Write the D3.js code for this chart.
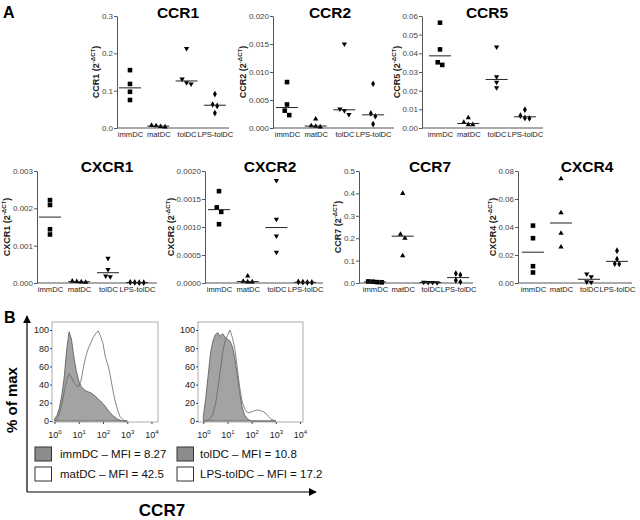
<!DOCTYPE html>
<html><head><meta charset="utf-8">
<script src="https://cdn.jsdelivr.net/npm/d3@7"></script>
<style>body{margin:0;background:#fff} svg{display:block} text{font-family:"Liberation Sans",Arial,sans-serif}</style>
</head><body><svg id="c" width="640" height="520"></svg>
<script>
// ---------------- DATA ----------------
const categories = ["immDC", "matDC", "tolDC", "LPS-tolDC"];
const genes = ["CCR1", "CCR2", "CCR5", "CXCR1", "CXCR2", "CCR7", "CXCR4"];

const ccr1Values  = [[0.155, 0.118, 0.097, 0.075], [0.004, 0.006, 0.007, 0.003], [0.213, 0.131, 0.118, 0.121], [0.091, 0.063, 0.059, 0.040]];
const ccr2Values  = [[0.0082, 0.0042, 0.0031, 0.0023], [0.0016, 0.0004, 0.0003, 0.0002], [0.0150, 0.0034, 0.0031, 0.0024], [0.0079, 0.0026, 0.0021, 0.0007]];
const ccr5Values  = [[0.0564, 0.0421, 0.0352, 0.0338], [0.0055, 0.0030, 0.0018, 0.0018], [0.0434, 0.0275, 0.0245, 0.0216], [0.0098, 0.0066, 0.0052, 0.0054]];
const cxcr1Values = [[0.00222, 0.00209, 0.00144, 0.00130], [0.00004, 0.00003, 0.00005, 0.00002], [0.00066, 0.00036, 0.00019, 0.00017], [0.00001, 0.000015, 0.00001, 0.00002]];
const cxcr2Values = [[0.00164, 0.00135, 0.00127, 0.00105], [0.000125, 0.00003, 0.00002, 0.00002], [0.00183, 0.00114, 0.00084, 0.00055], [0.00001, 0.000015, 0.00001, 0.00002]];
const ccr7Values  = [[0.006, 0.004, 0.007, 0.003], [0.400, 0.218, 0.200, 0.122], [0.002, 0.003, 0.002, 0.001], [0.042, 0.036, 0.012, 0.0045]];
const cxcr4Values = [[0.041, 0.032, 0.012, 0.0075], [0.0745, 0.0502, 0.0355, 0.0257], [0.0065, 0.0045, 0.0008, 0.0006], [0.0231, 0.0171, 0.0138, 0.0136]];
const geneValues = [ccr1Values, ccr2Values, ccr5Values, cxcr1Values, cxcr2Values, ccr7Values, cxcr4Values];

const yMaxima = [0.3, 0.02, 0.06, 0.003, 0.002, 0.5, 0.08];
const yTickSteps = [0.1, 0.005, 0.01, 0.001, 0.0005, 0.1, 0.02];
const yTickDecimals = [1, 3, 2, 3, 4, 1, 2];

// Flow cytometry histograms (CCR7), x = log10 fluorescence, y = % of max
const histExponents = [0.0, 0.1, 0.2, 0.3, 0.4, 0.5, 0.6, 0.7, 0.8, 0.9, 1.0, 1.1, 1.2, 1.3, 1.4, 1.5, 1.6, 1.7, 1.8, 1.9, 2.0, 2.1, 2.2, 2.3, 2.4, 2.5, 2.6, 2.7, 2.8, 2.9, 3.0];
const immDCHist    = [2, 6, 14, 28, 48, 78, 98, 90, 70, 55, 44, 38, 35, 33, 32, 31, 29, 27, 24, 22, 19, 16, 12, 9, 6, 4, 2, 1, 0, 0, 0];
const matDCHist    = [0, 2, 8, 18, 32, 45, 52, 48, 42, 39, 38, 45, 60, 72, 80, 86, 92, 96, 99, 93, 85, 70, 62, 50, 35, 22, 12, 5, 2, 0, 0];
const tolDCHist    = [5, 25, 50, 75, 88, 95, 97, 93, 96, 92, 90, 88, 82, 70, 52, 32, 16, 7, 3, 1, 0, 0, 0, 0, 0, 0, 0, 0, 0, 0, 0];
const lpsTolDCHist = [0, 0, 1, 3, 8, 18, 35, 55, 75, 88, 94, 100, 92, 80, 60, 38, 22, 14, 10, 9, 10, 11, 12, 12, 11, 10, 8, 5, 2, 1, 0];
const histGroups = [["immDC", "matDC"], ["tolDC", "LPS-tolDC"]];
const mfiValues = [[8.27, 42.5], [10.8, 17.2]];
const histYTicks = [0, 20, 40, 60, 80, 100];
const histXTicks = [1, 10, 100, 1000, 10000];

// ---------------- LAYOUT ----------------
const svg = d3.select("#c");
const FONT = '"Liberation Sans", Arial, sans-serif';
const layout = [
  {ax: 117, first: 130, step: 28.3, end: 229, top: 16, bot: 128, tx: 178, ty: 18},
  {ax: 273, first: 287, step: 28.7, end: 394, top: 16, bot: 128, tx: 330, ty: 18},
  {ax: 422, first: 440, step: 28.3, end: 543, top: 16, bot: 128, tx: 487, ty: 18},
  {ax: 37,  first: 50,  step: 29,   end: 157, top: 171, bot: 283, tx: 107, ty: 172},
  {ax: 205, first: 219, step: 28.7, end: 323, top: 171, bot: 283, tx: 270, ty: 172},
  {ax: 359, first: 375, step: 27.7, end: 473, top: 171, bot: 283, tx: 430, ty: 172},
  {ax: 518, first: 533, step: 28,   end: 632, top: 171, bot: 283, tx: 587, ty: 172}
];
const symbols = [
  {type: d3.symbolSquare, size: 21, rot: 0},
  {type: d3.symbolTriangle, size: 12, rot: 0},
  {type: d3.symbolTriangle, size: 12, rot: 180},
  {type: d3.symbolDiamond, size: 13, rot: 0}
];

// Panel letters
svg.append("text").attr("x", 3).attr("y", 18).attr("font-size", 16).attr("font-weight", "bold").text("A");
svg.append("text").attr("x", 4).attr("y", 323).attr("font-size", 16).attr("font-weight", "bold").text("B");

genes.forEach((gene, gi) => {
  const L = layout[gi];
  const g = svg.append("g");
  const y = d3.scaleLinear().domain([0, yMaxima[gi]]).range([L.bot, L.top]);
  const x = d3.scalePoint().domain(categories).range([L.first, L.first + 3 * L.step]);
  const ticks = d3.range(0, yMaxima[gi] + yTickSteps[gi] / 2, yTickSteps[gi]);
  const fmt = d3.format("." + yTickDecimals[gi] + "f");

  const yAxis = g.append("g").attr("transform", `translate(${L.ax},0)`)
    .call(d3.axisLeft(y).tickValues(ticks).tickFormat(fmt).tickSize(3).tickSizeOuter(0).tickPadding(1));
  yAxis.select(".domain").attr("stroke", "#555");
  yAxis.selectAll(".tick line").attr("stroke", "#555");
  yAxis.selectAll("text").attr("font-size", 8).attr("fill", "#444").attr("font-family", FONT);

  // x axis line
  g.append("line").attr("x1", L.ax).attr("x2", L.end).attr("y1", L.bot).attr("y2", L.bot).attr("stroke", "#555");
  const xAxis = g.append("g").attr("transform", `translate(0,${L.bot})`)
    .call(d3.axisBottom(x).tickSize(0).tickPadding(4));
  xAxis.select(".domain").remove();
  xAxis.selectAll("text").attr("font-size", 7.6).attr("fill", "#222").attr("font-family", FONT);

  // title
  g.append("text").attr("x", L.tx).attr("y", L.ty).attr("text-anchor", "middle")
    .attr("font-size", 15.5).attr("font-weight", "bold").text(gene);

  // y label
  let maxW = 0;
  yAxis.selectAll("text").each(function() { maxW = Math.max(maxW, this.getComputedTextLength()); });
  const lx = L.ax - 4 - maxW - 2.5;
  const ly = (L.top + L.bot) / 2;
  const lab = g.append("text").attr("transform", `translate(${lx},${ly}) rotate(-90)`)
    .attr("text-anchor", "middle").attr("font-size", 9).attr("font-weight", "bold").attr("fill", "#222");
  lab.append("tspan").text(gene + " (2");
  lab.append("tspan").attr("dy", -4).attr("font-size", 6).text("-ΔCT");
  lab.append("tspan").attr("dy", 4).text(")");

  // points
  geneValues[gi].forEach((vals, ci) => {
    const cx = x(categories[ci]);
    const pts = vals.map(v => ({v, py: y(v)})).sort((a, b) => a.py - b.py);
    // spread points with overlapping y (scatter dot plot)
    const clusters = [];
    pts.forEach(p => {
      const last = clusters[clusters.length - 1];
      if (last && p.py - last[last.length - 1].py < 4.5) last.push(p); else clusters.push([p]);
    });
    clusters.forEach(cl => cl.forEach((p, i) => { p.dx = (i - (cl.length - 1) / 2) * 4.5; }));
    const sym = symbols[ci];
    g.selectAll(null).data(pts).enter().append("path")
      .attr("d", d3.symbol().type(sym.type).size(sym.size))
      .attr("transform", p => `translate(${cx + p.dx},${p.py}) rotate(${sym.rot})`)
      .attr("fill", "#000");
    const med = d3.median(vals);
    g.append("line").attr("x1", cx - 11).attr("x2", cx + 11)
      .attr("y1", y(med)).attr("y2", y(med)).attr("stroke", "#222").attr("stroke-width", 1);
  });
});

// ---------------- PART B ----------------
const defs = svg.append("defs");
defs.append("marker").attr("id", "arr").attr("viewBox", "0 0 10 10").attr("refX", 9).attr("refY", 5)
  .attr("markerWidth", 8).attr("markerHeight", 8).attr("markerUnits", "userSpaceOnUse").attr("orient", "auto")
  .append("path").attr("d", "M0,0 L10,5 L0,10 Z").attr("fill", "#000");
svg.append("line").attr("x1", 27).attr("y1", 492).attr("x2", 27).attr("y2", 316)
  .attr("stroke", "#000").attr("stroke-width", 1.2).attr("marker-end", "url(#arr)");
svg.append("line").attr("x1", 27).attr("y1", 492).attr("x2", 316).attr("y2", 492)
  .attr("stroke", "#000").attr("stroke-width", 1.2).attr("marker-end", "url(#arr)");
svg.append("text").attr("transform", "translate(17,400) rotate(-90)").attr("text-anchor", "middle")
  .attr("font-size", 15).attr("font-weight", "bold").text("% of max");
svg.append("text").attr("x", 162).attr("y", 516).attr("text-anchor", "middle")
  .attr("font-size", 17).attr("font-weight", "bold").text("CCR7");

const histLayout = [
  {fx0: 52, fx1: 158, r0: 54.5, r1: 151.5, box: 35, tx: 60},
  {fx0: 198, fx1: 303, r0: 203.3, r1: 300, box: 177, tx: 200}
];
const histFilled = [immDCHist, tolDCHist];
const histOpen = [matDCHist, lpsTolDCHist];
const fy0 = 322, fy1 = 422;
const yH = d3.scaleLinear().domain([0, 100]).range([421, 330]);

histLayout.forEach((H, hi) => {
  const g = svg.append("g");
  const xH = d3.scaleLog().domain([1, 1e4]).range([H.r0, H.r1]);
  g.append("rect").attr("x", H.fx0).attr("y", fy0).attr("width", H.fx1 - H.fx0).attr("height", fy1 - fy0)
    .attr("fill", "none").attr("stroke", "#999").attr("stroke-width", 0.8);
  const filledData = histExponents.map((e, i) => ({x: Math.pow(10, e), v: histFilled[hi][i]}));
  const openData = histExponents.map((e, i) => ({x: Math.pow(10, e), v: histOpen[hi][i]}));
  g.append("path").datum(filledData)
    .attr("d", d3.area().x(d => xH(d.x)).y0(yH(0)).y1(d => yH(d.v)))
    .attr("fill", "#a3a3a3").attr("stroke", "#555").attr("stroke-width", 0.8);
  g.append("path").datum(openData)
    .attr("d", d3.line().x(d => xH(d.x)).y(d => yH(d.v)))
    .attr("fill", "none").attr("stroke", "#666").attr("stroke-width", 0.8);

  const ya = g.append("g").attr("transform", `translate(${H.fx0},0)`)
    .call(d3.axisLeft(yH).tickValues(histYTicks).tickSize(2).tickSizeOuter(0).tickPadding(1));
  ya.select(".domain").remove();
  ya.selectAll(".tick line").attr("stroke", "#444");
  ya.selectAll("text").attr("font-size", 9).attr("fill", "#222").attr("font-family", FONT);

  const xa = g.append("g").attr("transform", `translate(0,${fy1})`)
    .call(d3.axisBottom(xH).tickValues(histXTicks).tickSize(2).tickSizeOuter(0).tickFormat(() => ""));
  xa.select(".domain").remove();
  xa.selectAll(".tick line").attr("stroke", "#444");
  xa.selectAll(".tick").each(function(d) {
    const t = d3.select(this).append("text").attr("y", 16).attr("text-anchor", "middle")
      .attr("font-size", 9).attr("fill", "#222").attr("font-family", FONT);
    t.append("tspan").text("10");
    t.append("tspan").attr("dy", -4).attr("font-size", 6).text(String(Math.round(Math.log10(d))));
  });

  // legend
  histGroups[hi].forEach((name, li) => {
    const by = 447 + li * 20;
    g.append("rect").attr("x", H.box).attr("y", by).attr("width", 16.5).attr("height", 14)
      .attr("fill", li === 0 ? "#8c8c8c" : "#fff").attr("stroke", "#333").attr("stroke-width", 1);
    g.append("text").attr("x", H.tx).attr("y", by + 11).attr("font-size", 11.5).attr("fill", "#111")
      .text(`${name} – MFI = ${mfiValues[hi][li]}`);
  });
});
</script></body></html>
